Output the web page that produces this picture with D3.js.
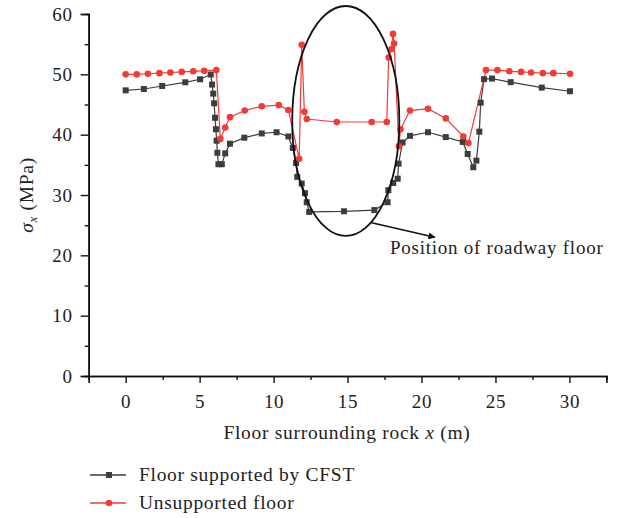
<!DOCTYPE html>
<html>
<head>
<meta charset="utf-8">
<script src="https://cdn.jsdelivr.net/npm/d3@7/dist/d3.min.js"></script>
<style>
  html, body { margin: 0; padding: 0; background: #fff; }
  svg { display: block; }
  text { font-family: "Liberation Serif", "DejaVu Serif", serif; fill: #222; }
</style>
</head>
<body>
<svg id="chart" width="621" height="518"></svg>
<script>
// Horizontal stress sigma_x along the floor, two cases
const cfstX = [0, 1.23, 2.47, 4.03, 5.03, 5.75, 5.84, 5.92, 5.98, 6.04, 6.1, 6.15, 6.2, 6.27, 6.5, 6.73, 7.05, 8.02, 9.2, 10.2,
  11.0, 11.3, 11.52, 11.6, 11.9, 12.12, 12.24, 12.41, 14.76, 16.81, 17.71, 17.76, 18.09, 18.39, 18.45, 18.72, 19.22, 20.44,
  21.64, 22.79, 23.12, 23.5, 23.71, 23.91, 24.0, 24.23, 24.77, 26.03, 28.13, 30.04];
const cfstY = [47.35, 47.57, 48.07, 48.68, 49.18, 49.97, 48.3, 46.8, 45.2, 42.8, 40.9, 39.0, 37.0, 35.1, 35.1, 36.9, 38.5, 39.5, 40.2, 40.4,
  39.7, 37.8, 35.3, 33.0, 31.9, 30.3, 28.8, 27.2, 27.3, 27.5, 28.8, 30.8, 32.0, 32.7, 35.2, 38.7, 39.8, 40.4,
  39.6, 38.8, 36.8, 34.6, 35.7, 40.5, 45.3, 49.2, 49.3, 48.7, 47.8, 47.2];

const unsupX = [0, 0.75, 1.5, 2.28, 3.02, 3.79, 4.57, 5.31, 6.13, 6.4, 6.73, 7.05, 8.05, 9.2, 10.35, 11.0, 11.73, 11.9, 12.08, 12.24,
  14.27, 16.63, 17.65, 17.78, 17.97, 18.07, 18.15, 18.47, 18.58, 19.22, 20.44, 21.64, 22.83, 23.17, 24.36, 25.13, 25.94,
  26.73, 27.41, 28.2, 28.91, 30.04];
const unsupY = [50.0, 50.0, 50.1, 50.2, 50.3, 50.4, 50.5, 50.6, 50.7, 39.3, 41.2, 42.9, 44.0, 44.7, 44.9, 44.1, 36.0, 54.9, 43.8, 42.6,
  42.1, 42.1, 42.1, 52.8, 54.2, 56.7, 55.1, 38.1, 40.9, 44.0, 44.3, 42.7, 39.7, 38.6, 50.7, 50.7, 50.5,
  50.4, 50.3, 50.2, 50.2, 50.1];

const seriesNames = ["Floor supported by CFST", "Unsupported floor"];
const xTicks = [0, 5, 10, 15, 20, 25, 30];
const yTicks = [0, 10, 20, 30, 40, 50, 60];
const annotationText = "Position of roadway floor";

const svg = d3.select("#chart");
const x = d3.scaleLinear().domain([-2.5, 32.5]).range([88.7, 606.4]);
const y = d3.scaleLinear().domain([0, 60]).range([376, 14]);

const gray = "#3d3d3d";
const red = "#f23a36";
const fs = "19.5px";
const ls = "0.7px";

// axes
const xAxis = d3.axisBottom(x).tickValues(xTicks).tickSize(7).tickPadding(12).tickFormat(d3.format("d"));
const xMinor = d3.axisBottom(x).tickValues(d3.range(-2.5, 33, 5)).tickSize(4).tickFormat("");
const yAxis = d3.axisLeft(y).tickValues(yTicks).tickSize(8).tickPadding(8).tickFormat(d3.format("d"));
const yMinor = d3.axisLeft(y).tickValues(d3.range(5, 60, 10)).tickSize(4).tickFormat("");

function styleAxis(g) {
  g.selectAll(".domain").attr("stroke", "#111").attr("stroke-width", 1.6);
  g.selectAll(".tick line").attr("stroke", "#111").attr("stroke-width", 1.4);
  g.selectAll(".tick text").style("font-family", "'Liberation Serif', serif").style("font-size", "19px")
    .style("letter-spacing", ls).attr("fill", "#222");
}
svg.append("g").attr("transform", `translate(0,${y(0)})`).call(xMinor).call(styleAxis);
svg.append("g").attr("transform", `translate(0,${y(0)})`).call(xAxis).call(styleAxis);
svg.append("g").attr("transform", `translate(${x.range()[0]},0)`).call(yMinor).call(styleAxis);
svg.append("g").attr("transform", `translate(${x.range()[0]},0)`).call(yAxis).call(styleAxis);

// axis titles
const xt = svg.append("text").attr("x", 347).attr("y", 439).attr("text-anchor", "middle")
  .style("font-size", fs).style("letter-spacing", ls);
xt.append("tspan").text("Floor surrounding rock ");
xt.append("tspan").style("font-style", "italic").text("x");
xt.append("tspan").text(" (m)");

const yt = svg.append("text").attr("transform", "translate(33,195) rotate(-90)").attr("text-anchor", "middle")
  .style("font-size", fs).style("letter-spacing", ls);
yt.append("tspan").style("font-style", "italic").text("σ");
yt.append("tspan").style("font-style", "italic").style("font-size", "13px").attr("dy", 4).text("x");
yt.append("tspan").attr("dy", -4).text(" (MPa)");

// series
const line = d3.line().x(d => x(d[0])).y(d => y(d[1]));
const cfst = cfstX.map((v, i) => [v, cfstY[i]]);
const unsup = unsupX.map((v, i) => [v, unsupY[i]]);

svg.append("path").datum(cfst).attr("d", line).attr("fill", "none").attr("stroke", gray).attr("stroke-width", 1.2);
svg.append("path").datum(unsup).attr("d", line).attr("fill", "none").attr("stroke", red).attr("stroke-width", 1.2);

svg.append("g").selectAll("rect").data(cfst).join("rect")
  .attr("x", d => x(d[0]) - 3).attr("y", d => y(d[1]) - 3).attr("width", 6).attr("height", 6).attr("fill", gray);
svg.append("g").selectAll("circle").data(unsup).join("circle")
  .attr("cx", d => x(d[0])).attr("cy", d => y(d[1])).attr("r", 3.3).attr("fill", red);

// roadway floor ellipse and arrow
svg.append("ellipse").attr("cx", x(14.88)).attr("cy", y(42.27))
  .attr("rx", x(14.88 + 3.62) - x(14.88)).attr("ry", y(42.27) - y(42.27 + 19.06))
  .attr("fill", "none").attr("stroke", "#111").attr("stroke-width", 1.8);

svg.append("defs").append("marker").attr("id", "arrowhead").attr("viewBox", "0 0 10 10")
  .attr("refX", 9).attr("refY", 5).attr("markerWidth", 9).attr("markerHeight", 7).attr("orient", "auto")
  .attr("markerUnits", "userSpaceOnUse")
  .append("path").attr("d", "M0,0 L10,5 L0,10 z").attr("fill", "#111");
svg.append("line").attr("x1", x(16.63)).attr("y1", y(25.4)).attr("x2", x(20.9)).attr("y2", y(23.0))
  .attr("stroke", "#111").attr("stroke-width", 1.5).attr("marker-end", "url(#arrowhead)");

svg.append("text").attr("x", 390).attr("y", 254).style("font-size", "19px").style("letter-spacing", "0.75px").text(annotationText);

// legend
const legend = svg.append("g");
[[gray, "rect"], [red, "circle"]].forEach(([c, shape], i) => {
  const ly = 475 + i * 28;
  legend.append("line").attr("x1", 90).attr("x2", 126).attr("y1", ly).attr("y2", ly).attr("stroke", c).attr("stroke-width", 1.4);
  if (shape === "rect") legend.append("rect").attr("x", 106).attr("y", ly - 3).attr("width", 6).attr("height", 6).attr("fill", c);
  else legend.append("circle").attr("cx", 109).attr("cy", ly).attr("r", 3.3).attr("fill", c);
  legend.append("text").attr("x", 139).attr("y", ly + 6).style("font-size", fs).style("letter-spacing", ls).text(seriesNames[i]);
});
</script>
</body>
</html>
